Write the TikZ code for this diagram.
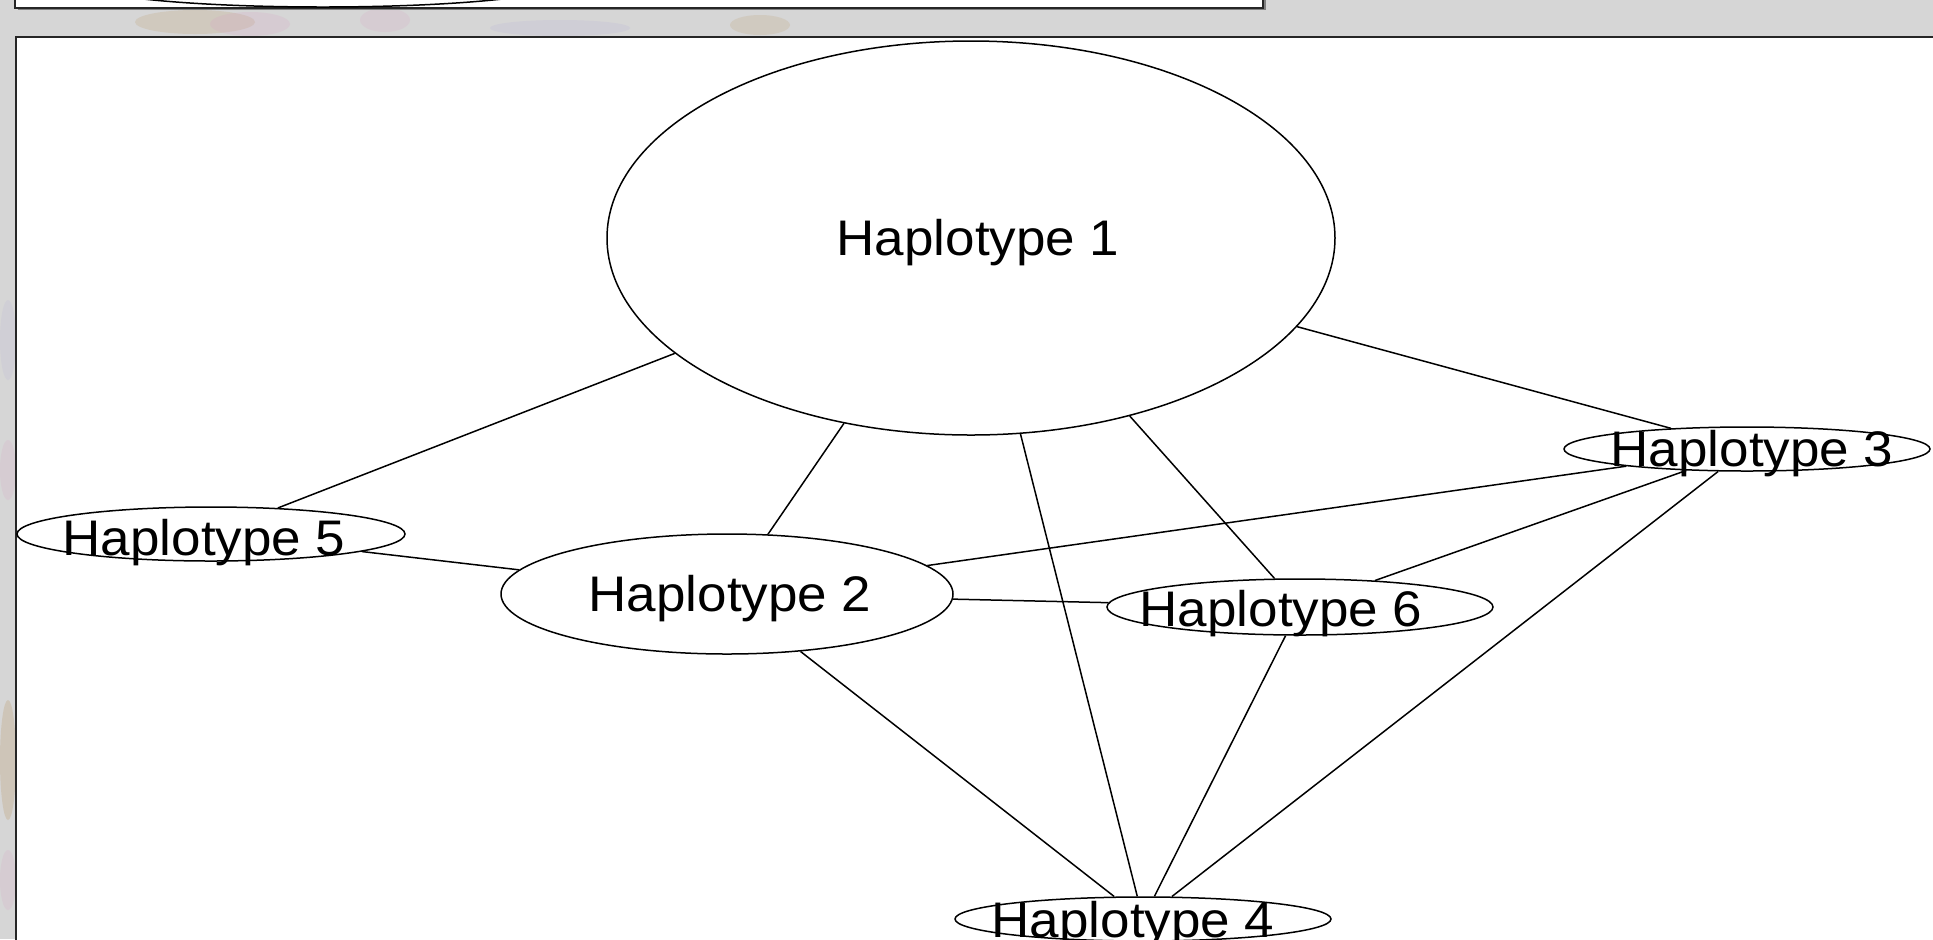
\documentclass[tikz,border=0pt]{standalone}
\usepackage{fontspec}
\setmainfont[FakeStretch=1.06]{Liberation Sans}
\usetikzlibrary{shapes.geometric}

\definecolor{mapgrey}{RGB}{214,214,214}
\definecolor{mappink}{RGB}{214,160,196}
\definecolor{mapbrown}{RGB}{186,150,96}
\definecolor{mapblue}{RGB}{176,170,214}

\tikzset{
  hap/.style={draw, ellipse, inner sep=0pt, line width=0.75pt},
  haplabel/.style={anchor=base, inner sep=0pt, font=\fontsize{25}{30}\selectfont},
  link/.style={line width=0.75pt},
  panel/.style={draw=black!85, line width=1.2pt, fill=white}
}

\begin{document}
\begin{tikzpicture}[x=0.5pt, y=-0.5pt]
\useasboundingbox (0,0) rectangle (1933,939);

% map showing through behind the panels
\fill[mapgrey] (0,0) rectangle (1933,939);
\fill[mapbrown, opacity=0.2] (195,22) ellipse [x radius=60, y radius=12];
\fill[mappink, opacity=0.2] (250,24) ellipse [x radius=40, y radius=12];
\fill[mappink, opacity=0.18] (385,20) ellipse [x radius=25, y radius=12];
\fill[mapblue, opacity=0.18] (560,28) ellipse [x radius=70, y radius=8];
\fill[mapbrown, opacity=0.18] (760,25) ellipse [x radius=30, y radius=10];
\fill[mapblue, opacity=0.15] (8,340) ellipse [x radius=8, y radius=40];
\fill[mappink, opacity=0.18] (8,470) ellipse [x radius=8, y radius=30];
\fill[mapbrown, opacity=0.25] (8,760) ellipse [x radius=8, y radius=60];
\fill[mappink, opacity=0.18] (8,880) ellipse [x radius=8, y radius=30];

% upper panel, only its lower edge shows
\fill[black!50] (18,-5) rectangle (1266,10);
\path[panel] (15,-5) rectangle (1263,8);
\begin{scope}
  \clip (15,-5) rectangle (1263,8);
  \draw[link] (323,-18) ellipse [x radius=245, y radius=25];
\end{scope}

% network panel
\draw[panel] (16,37) rectangle (1950,960);

\node[hap, minimum width=364pt, minimum height=197pt] (h1) at (971,238) {};
\node[hap, minimum width=226pt, minimum height=60pt] (h2) at (727,594) {};
\node[hap, minimum width=183pt, minimum height=22pt] (h3) at (1747,449) {};
\node[hap, minimum width=188pt, minimum height=22pt] (h4) at (1143,919) {};
\node[hap, minimum width=194pt, minimum height=27pt] (h5) at (211,534) {};
\node[hap, minimum width=193pt, minimum height=28pt] (h6) at (1300,607) {};

% links between haplotypes
\foreach \a/\b in {1/5,1/2,1/4,1/6,1/3,5/2,2/3,2/6,2/4,6/3,6/4,3/4}{
  \draw[link] (h\a) -- (h\b);
}

\node[haplabel] (t1) at (978,255) {Haplotype 1};
\node[haplabel] (t2) at (730,611) {Haplotype 2};
\node[haplabel] (t3) at (1752,466) {Haplotype 3};
\node[haplabel] (t4) at (1133,937) {Haplotype 4};
\node[haplabel] (t5) at (204,555) {Haplotype 5};
\node[haplabel] (t6) at (1281,626) {Haplotype 6};
\end{tikzpicture}
\end{document}
